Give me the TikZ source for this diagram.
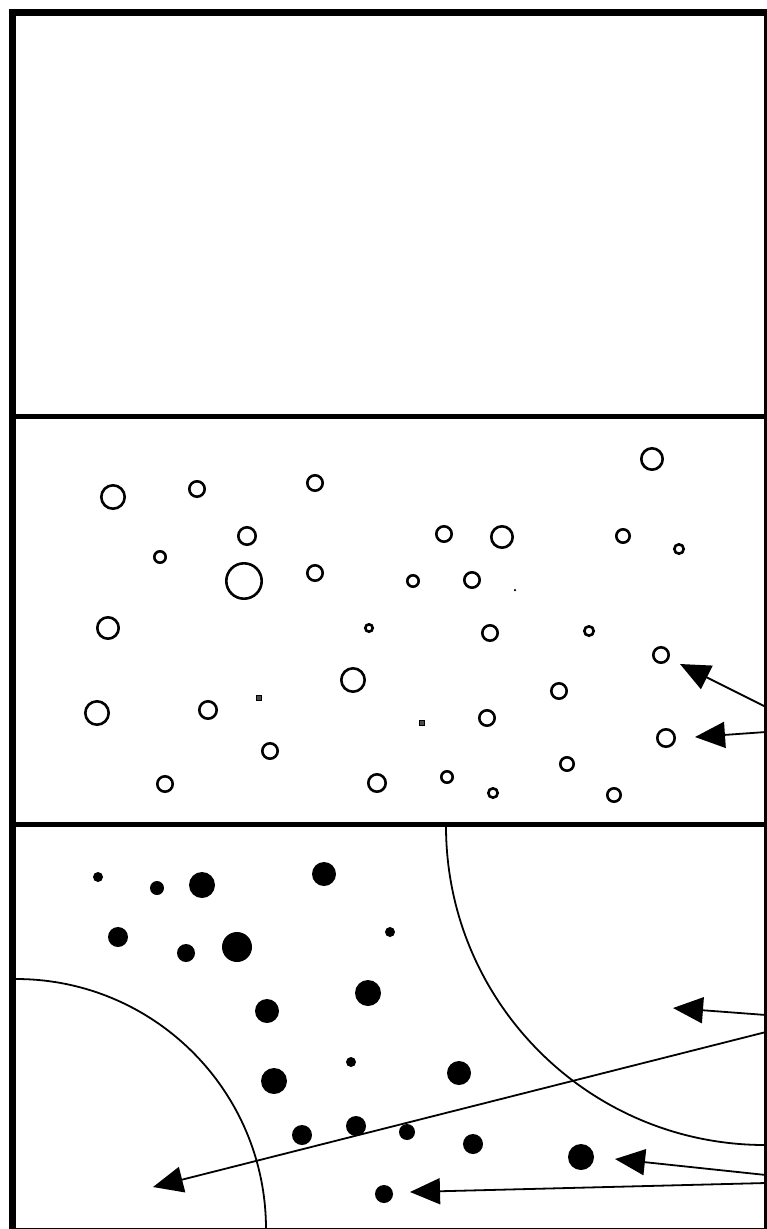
\documentclass[tikz,border=0pt]{standalone}
\usetikzlibrary{arrows.meta,calc}
\tikzset{
  frameline/.style={draw=black,line width=7pt},
  divider/.style={draw=black,line width=5pt},
  ringdot/.style={circle,draw=black,line width=2.6pt,fill=white,inner sep=0pt},
  specksq/.style={rectangle,draw=black,line width=1pt,fill=black!70,inner sep=0pt,minimum size=5pt},
  solidot/.style={circle,fill=black,inner sep=0pt},
  zoneline/.style={draw=black,line width=1.8pt},
  arrow/.style={-{Triangle[length=30pt,width=26pt]},line width=1.8pt},
}

\begin{document}
\begin{tikzpicture}[x=1pt,y=-1pt]
  \useasboundingbox (0,0) rectangle (767,1229);

  %% ── Frame and panels ──────────────────────────────────────────────────────
  \draw[frameline] (12,12) rectangle (767,1231);
  \draw[divider] (12,416) -- (767,416);
  \draw[divider] (12,824) -- (767,824);

  %% ── Middle panel: open particles ──────────────────────────────────────────
  \foreach \x/\y/\r [count=\i] in {113/497/13,197/489/9,315/483/9,247/536/10,
      160/557/7,244/581/19,315/573/9,108/628/12,369/628/5,353/680/13,97/713/13,
      208/710/10,270/751/9,165/784/9,377/783/10,652/459/12,444/534/9,502/537/12,
      623/536/8,679/549/6,413/581/7,472/580/9,490/633/9,589/631/6,661/655/9,
      559/691/9,487/718/9,666/738/10,567/764/8,447/777/7,493/793/6,614/795/8}
    \node[ringdot,minimum size={(2*\r-2.6)*1pt}] (ring\i) at (\x,\y) {};
  \node[specksq] (sq1) at (259,698) {};
  \node[specksq] (sq2) at (422,723) {};
  \node[solidot,minimum size=2.5pt] (speck) at (515,590) {};

  %% ── Bottom panel: filled particles ────────────────────────────────────────
  \foreach \x/\y/\r [count=\i] in {98/877/5,157/888/7,202/885/13,324/874/12,
      118/937/10,186/953/9,237/947/15,390/932/5,368/993/13,267/1011/12,
      351/1062/5,274/1081/13,302/1135/10,356/1126/10,384/1194/9,459/1073/12,
      407/1132/8,473/1144/10,581/1157/13}
    \node[solidot,minimum size={2*\r*1pt}] (solid\i) at (\x,\y) {};

  %% ── Zone boundaries ───────────────────────────────────────────────────────
  \draw[zoneline] (16,979) arc[start angle=-90,end angle=0,radius=250];
  \draw[zoneline] (446,826) arc[start angle=180,end angle=90,radius=319];

  %% ── Arrows coming in from the right ───────────────────────────────────────
  \coordinate (m1s) at (766,707);  \coordinate (m1e) at (680,664);
  \coordinate (m2s) at (766,732);  \coordinate (m2e) at (695,737);
  \coordinate (b1s) at (766,1015); \coordinate (b1e) at (673,1008);
  \coordinate (b2s) at (766,1032); \coordinate (b2e) at (153,1187);
  \coordinate (b3s) at (766,1175); \coordinate (b3e) at (615,1159);
  \coordinate (b4s) at (766,1183); \coordinate (b4e) at (410,1192);
  \draw[arrow] (m1s) -- (m1e);
  \draw[arrow] (m2s) -- (m2e);
  \draw[arrow] (b1s) -- (b1e);
  \draw[arrow] (b2s) -- (b2e);
  \draw[arrow] (b3s) -- (b3e);
  \draw[arrow] (b4s) -- (b4e);

\end{tikzpicture}
\end{document}
